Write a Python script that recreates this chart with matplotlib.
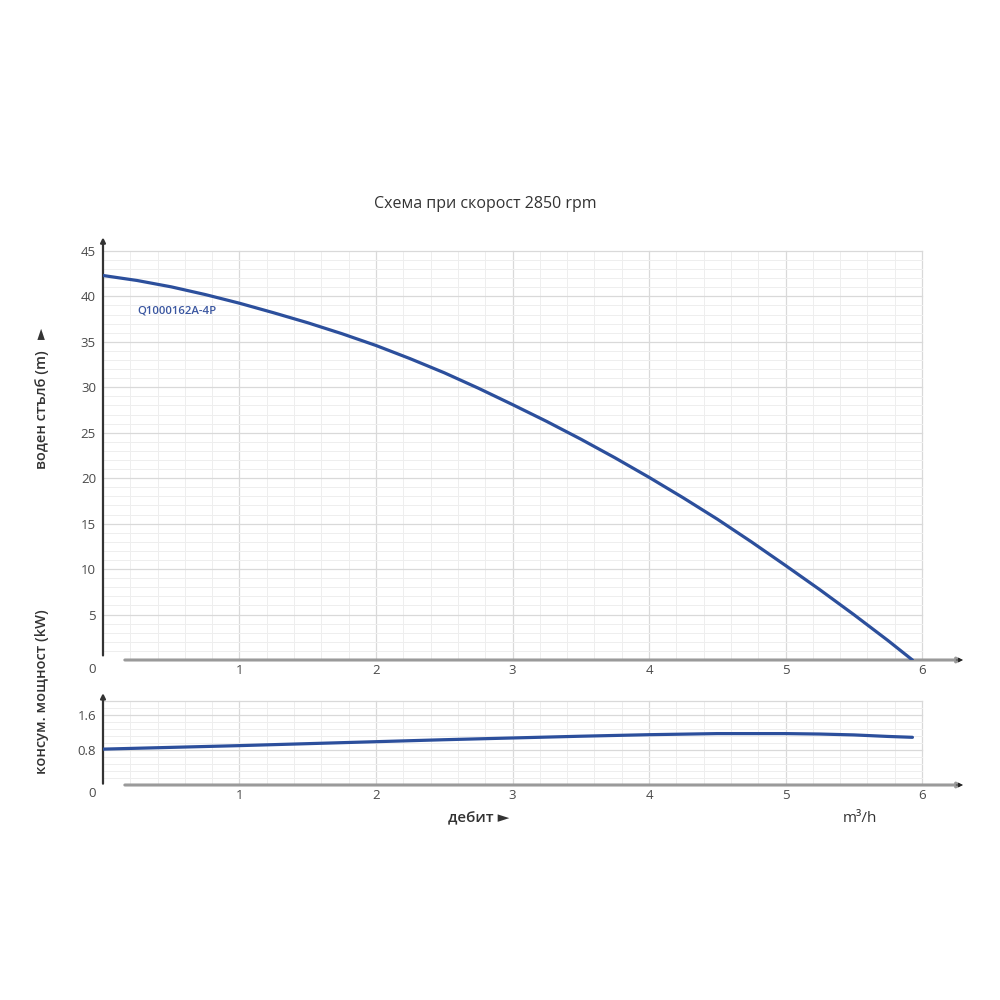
"""Pump curve Q1000162A-4P at 2850 rpm: head (top) and power draw (bottom)."""
import numpy as np
import matplotlib
matplotlib.use('Agg')
import matplotlib.pyplot as plt

plt.rcParams['font.family'] = ['Open Sans', 'DejaVu Sans']

# ── Data ──────────────────────────────────────────────────────────────────────
FLOW_H = [0.0, 0.25, 0.5, 0.75, 1.0, 1.25, 1.5, 1.75, 2.0, 2.25, 2.5, 2.75, 3.0,
          3.25, 3.5, 3.75, 4.0, 4.25, 4.5, 4.75, 5.0, 5.25, 5.5, 5.75, 5.93]
HEAD_M = [42.3, 41.75, 41.05, 40.2, 39.25, 38.2, 37.1, 35.9, 34.6, 33.15, 31.6, 29.9, 28.1,
          26.25, 24.3, 22.25, 20.1, 17.85, 15.5, 13.0, 10.4, 7.75, 5.0, 2.15, 0.0]

FLOW_P = [0.0, 0.5, 1.0, 1.5, 2.0, 2.5, 3.0, 3.5, 4.0, 4.5, 5.0, 5.25, 5.5, 5.75, 5.93]
POWER_KW = [0.82, 0.86, 0.90, 0.945, 0.99, 1.035, 1.075, 1.115, 1.15, 1.175, 1.175,
            1.165, 1.145, 1.11, 1.09]

X_TICKS = [1, 2, 3, 4, 5, 6]
HEAD_TICKS = [5, 10, 15, 20, 25, 30, 35, 40, 45]
POWER_TICKS = [0.8, 1.6]

TITLE = 'Схема при скорост 2850 rpm'
MODEL = 'Q1000162A-4P'

# ── Styles ────────────────────────────────────────────────────────────────────
BLUE = '#2c4f9c'
TXT = '#4a4a4a'
GRID_MAJ = '#d9d9d9'
GRID_MIN = '#eeeeee'
XMAX = 6.3
TICK_FS = 9.5


def draw_grid(ax, ytop, ymajor, yminor):
    for x in np.arange(0.2, 6.001, 0.2):
        major = abs(x - round(x)) < 1e-6
        ax.plot([x, x], [0, ytop], color=GRID_MAJ if major else GRID_MIN,
                lw=0.9 if major else 0.7, zorder=1)
    for y in yminor:
        ax.plot([0, 6], [y, y], color=GRID_MIN, lw=0.7, zorder=1)
    for y in ymajor:
        ax.plot([0, 6], [y, y], color=GRID_MAJ, lw=0.9, zorder=1)


def draw_axes_lines(ax, y0, ytop, xstart):
    ax.annotate('', xy=(0, ytop), xytext=(0, y0), annotation_clip=False,
                arrowprops=dict(arrowstyle='-|>', color='#333333', lw=1.6,
                                mutation_scale=7, shrinkA=0, shrinkB=0))
    ax.annotate('', xy=(XMAX, 0), xytext=(xstart, 0), annotation_clip=False,
                arrowprops=dict(arrowstyle='-|>', color='#9a9a9a', lw=2.2,
                                mutation_scale=7, shrinkA=0, shrinkB=0))
    ax.annotate('', xy=(XMAX, 0), xytext=(XMAX - 0.05, 0), annotation_clip=False,
                arrowprops=dict(arrowstyle='-|>', color='#222222', lw=0.5,
                                mutation_scale=7, shrinkA=0, shrinkB=0))


def style_ticks(ax, yticks, labels):
    for s in ax.spines.values():
        s.set_visible(False)
    ax.set_xticks(X_TICKS)
    ax.set_xticklabels([str(t) for t in X_TICKS], fontsize=TICK_FS, color=TXT,
                       fontweight='medium')
    ax.set_yticks(yticks)
    ax.set_yticklabels(labels, fontsize=TICK_FS, color=TXT, fontweight='medium')
    ax.tick_params(length=0, pad=3)
    ax.tick_params(axis='y', pad=5)


fig = plt.figure(figsize=(10, 10), dpi=100)
fig.patch.set_facecolor('white')

# ── Head curve ────────────────────────────────────────────────────────────────
HTOP = 46.5
ax_h = fig.add_axes([0.103, 0.340, XMAX * 0.1365, HTOP * 0.00909])
ax_h.set_xlim(0, XMAX)
ax_h.set_ylim(0, HTOP)
draw_grid(ax_h, 45, HEAD_TICKS, range(1, 45))
draw_axes_lines(ax_h, 0.5, HTOP, 0.16)
ax_h.plot(FLOW_H, HEAD_M, color=BLUE, lw=2.3, solid_capstyle='round', zorder=3)
style_ticks(ax_h, HEAD_TICKS, [str(t) for t in HEAD_TICKS])
ax_h.text(0.25, 38.4, MODEL, color='#3a56a0', fontsize=8.2, fontweight='semibold',
          ha='left', va='center')
ax_h.text(-0.08, -0.3, '0', color=TXT, fontsize=TICK_FS, fontweight='medium',
          ha='center', va='top')

# ── Power curve ───────────────────────────────────────────────────────────────
PTOP = 2.1
ax_p = fig.add_axes([0.103, 0.215, XMAX * 0.1365, PTOP * 0.04375])
ax_p.set_xlim(0, XMAX)
ax_p.set_ylim(0, PTOP)
draw_grid(ax_p, 1.92, POWER_TICKS + [1.92],
          [i * 0.16 for i in range(1, 12)])
draw_axes_lines(ax_p, 0.03, PTOP, 0.16)
ax_p.plot(FLOW_P, POWER_KW, color=BLUE, lw=2.3, solid_capstyle='round', zorder=3)
style_ticks(ax_p, POWER_TICKS, ['0.8', '1.6'])
ax_p.text(-0.08, -0.05, '0', color=TXT, fontsize=TICK_FS, fontweight='medium',
          ha='center', va='top')

# ── Texts ─────────────────────────────────────────────────────────────────────
fig.text(0.485, 0.796, TITLE, ha='center', va='center', fontsize=11.5,
         color='#333333', fontweight='medium')
fig.text(0.042, 0.602, 'воден стълб (m)   ►', rotation=90, ha='center', va='center',
         fontsize=10.5, color='#333333', fontweight='semibold',
         family=['Open Sans', 'DejaVu Sans'])
fig.text(0.042, 0.308, 'консум. мощност (kW)', rotation=90, ha='center', va='center',
         fontsize=10.5, color='#333333', fontweight='semibold')
fig.text(0.479, 0.182, 'дебит ►', ha='center', va='center', fontsize=11,
         color='#333333', fontweight='semibold', family=['Open Sans', 'DejaVu Sans'])
fig.text(0.86, 0.182, 'm³/h', ha='center', va='center', fontsize=11,
         color='#333333', fontweight='medium')

fig.savefig('out.png', dpi=100, facecolor='white')
plt.close(fig)
